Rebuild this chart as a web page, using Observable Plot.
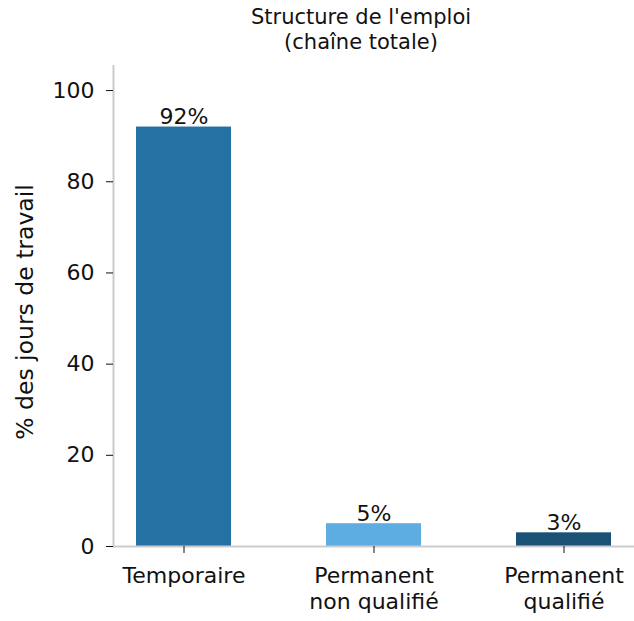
<!DOCTYPE html>
<html><head><meta charset="utf-8">
<script src="https://cdn.jsdelivr.net/npm/d3@7"></script>
<script src="https://cdn.jsdelivr.net/npm/@observablehq/plot@0.6"></script>
<style>
body{margin:0;background:#fff;font-family:"DejaVu Sans",sans-serif;}
#title{width:634px;height:65px;box-sizing:border-box;padding-left:88px;padding-top:5px;text-align:center;font-size:21px;line-height:25px;color:#111;}
svg{display:block;}
</style></head>
<body>
<div id="title">Structure de l'emploi<br>(chaîne totale)</div>
<div id="chart"></div>
<script>
const categories = ["Temporaire", "Permanent\nnon qualifié", "Permanent\nqualifié"];
const values = [92, 5, 3];
const labels = ["92%", "5%", "3%"];
const colors = ["#2471a3", "#5dade2", "#1a5276"];
const yTicks = [0, 20, 40, 60, 80, 100];

const data = categories.map((c, i) => ({cat: c, value: values[i], label: labels[i], color: colors[i]}));

const chart = Plot.plot({
  width: 634,
  height: 556,
  marginLeft: 113,
  marginRight: 0,
  marginTop: 0,
  marginBottom: 75,
  style: {fontFamily: "DejaVu Sans, sans-serif", fontSize: "22px", color: "#111", background: "#fff"},
  x: {domain: categories, paddingInner: 0.5, paddingOuter: 0.12, label: null},
  y: {domain: [0, 105.5], label: null},
  marks: [
    Plot.barY(data, {x: "cat", y: "value", fill: "color"}),
    Plot.text(data, {x: "cat", y: "value", text: "label", lineAnchor: "bottom", dy: -3, fontSize: 22, fill: "#111"}),
    Plot.frame({anchor: "left", stroke: "#cccccc", strokeWidth: 2}),
    Plot.frame({anchor: "bottom", stroke: "#cccccc", strokeWidth: 2}),
    Plot.axisY({ticks: yTicks, tickSize: 7, tickPadding: 12, fontSize: 22, tickFormat: d => String(d)}),
    Plot.text(["% des jours de travail"], {frameAnchor: "left", textAnchor: "middle", lineAnchor: "middle", rotate: -90, dx: -88, dy: 6, fontSize: 23.5, fill: "#111"}),
    Plot.axisX({tickSize: 7, tickPadding: 10, fontSize: 22, lineHeight: 1.22, label: null})
  ]
});
document.getElementById("chart").appendChild(chart);
</script>
</body></html>
